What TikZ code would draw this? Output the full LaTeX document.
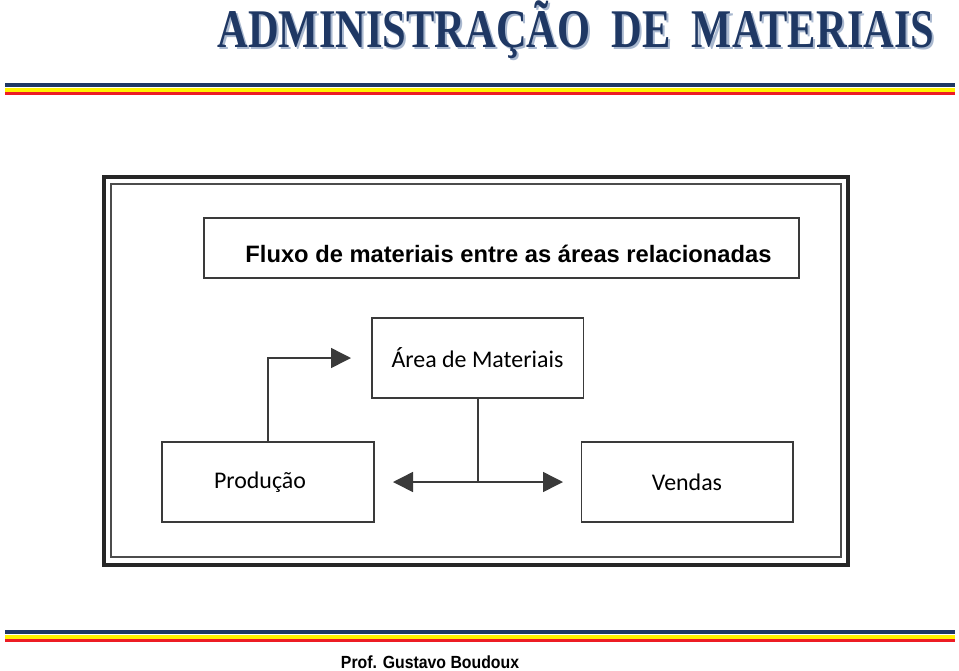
\documentclass[tikz,border=0pt]{standalone}
\usepackage{fontspec}
\setmainfont{Liberation Sans}
\newfontfamily\titlefont[FakeStretch=0.78]{Liberation Serif}
\newfontfamily\boxfont{Carlito}
\newfontfamily\footfont[FakeStretch=0.9]{Liberation Sans}
\usetikzlibrary{arrows.meta,positioning}

\definecolor{navy}{HTML}{1F3864}
\definecolor{navyshade}{HTML}{A9B8CF}
\definecolor{stripeyellow}{HTML}{FFF200}
\definecolor{stripered}{HTML}{ED1C24}
\definecolor{boxline}{HTML}{3A3A3A}

\begin{document}
\begin{tikzpicture}[
    x=0.2mm, y=-0.2mm,
    areablock/.style={
        rectangle,
        draw=boxline,
        line width=0.3mm,
        minimum width=42.3mm,
        minimum height=16mm,
        inner sep=0pt,
        font=\boxfont\fontsize{13.6}{16}\selectfont
    },
    flow/.style={draw=boxline, line width=0.3mm, -{Triangle[length=4mm, width=4mm]}},
    flowline/.style={draw=boxline, line width=0.3mm}
]
\useasboundingbox (0,0) rectangle (959,670);

% Title
\node [font=\titlefont\bfseries\fontsize{31}{31}\selectfont, text=navyshade] (titleshadow) at (578,32) {ADMINISTRAÇÃO~~DE~~MATERIAIS};
\node [font=\titlefont\bfseries\fontsize{31}{31}\selectfont, text=navy] (title) at (576,30) {ADMINISTRAÇÃO~~DE~~MATERIAIS};

% Stripes
\fill [navy] (5,83) rectangle (955,87);
\fill [stripeyellow] (5,88) rectangle (955,91.5);
\fill [stripered] (5,91.5) rectangle (955,95);
\fill [navy] (5,630) rectangle (955,634);
\fill [stripeyellow] (5,635) rectangle (955,638.5);
\fill [stripered] (5,638.5) rectangle (955,642);

% Frame
\draw [line width=0.8mm, black!85] (104,177) rectangle (848,565);
\draw [line width=0.3mm, black!70] (111,184) rectangle (841,557);

% Heading box
\node [rectangle, draw=boxline, line width=0.3mm, minimum width=119mm, minimum height=12mm,
    text height=5.6mm, text depth=0mm,
    font=\bfseries\fontsize{13.5}{15}\selectfont] (heading) at (501.5,248) {\hspace*{2.8mm}Fluxo de materiais entre as áreas relacionadas};

% Areas
\node [areablock] (materiais) at (477.5,358) {Área de Materiais};
\node [areablock] (producao) at (268,482) {Produção\hspace*{3.2mm}};
\node [areablock] (vendas) at (687,482) {Vendas};

% Connections
\coordinate (toarea) at (351,358);
\coordinate (junction) at (478,482);
\coordinate (toprod) at (393,482);
\coordinate (tovend) at (563,482);
\draw [flow] (producao.north -| 268,0) |- (toarea);
\draw [flowline] (materiais.south -| junction) -- (junction);
\draw [flow] (junction) -- (toprod);
\draw [flow] (junction) -- (tovend);

% Footer
\node [font=\footfont\bfseries\fontsize{10}{12}\selectfont] (author) at (430,662) {Prof. Gustavo Boudoux};

\end{tikzpicture}
\end{document}
